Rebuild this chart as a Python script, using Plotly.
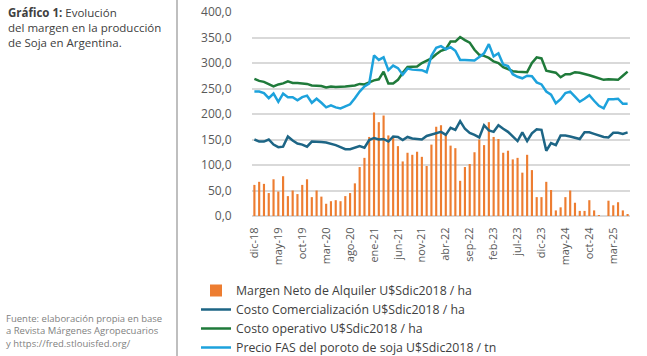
import plotly.graph_objects as go

month_abbr = ["ene", "feb", "mar", "abr", "may", "jun", "jul", "ago", "sep", "oct", "nov", "dic"]
# monthly categories dic-18 .. jun-25
months = ["dic-18"] + [f"{m}-{y:02d}" for y in range(19, 26) for m in month_abbr]
months = months[:79]
tick_labels = months[::5]

margen = [61, 67, 63, 45, 72, 48, 78, 39, 50, 43, 61, 72, 37, 50, 38, 24, 29, 31, 29, 39,
          45, 64, 96, 114, 155, 203, 184, 197, 158, 155, 137, 107, 124, 120, 126, 116, 98, 140, 175, 178,
          160, 138, 133, 69, 96, 102, 125, 150, 139, 184, 155, 151, 124, 128, 111, 114, 85, 120, 90, 37,
          37, 67, 51, 11, 17, 37, 50, 26, 10, 10, 31, 11, 1, -3, 30, 21, 27, 11, 2]
comercializacion = [150, 146, 146, 150, 140, 135, 136, 156, 148, 142, 140, 136, 146, 146, 145, 144, 142, 139, 135, 131,
                    131, 134, 137, 134, 149, 153, 150, 151, 146, 156, 155, 149, 155, 152, 151, 150, 157, 160, 163, 165,
                    159, 173, 169, 186, 171, 163, 159, 154, 178, 168, 165, 178, 171, 165, 156, 147, 164, 147, 162, 170,
                    169, 128, 143, 139, 158, 158, 156, 154, 151, 164, 164, 161, 158, 155, 154, 163, 163, 161, 164]
operativo = [269, 265, 263, 259, 254, 258, 260, 264, 261, 261, 260, 259, 256, 256, 255, 252, 254, 253, 253, 254,
             255, 256, 259, 258, 262, 266, 268, 283, 260, 260, 267, 281, 292, 292, 293, 300, 304, 309, 317, 324,
             327, 342, 342, 351, 345, 340, 326, 316, 314, 310, 303, 300, 292, 288, 284, 283, 283, 282, 300, 311,
             309, 285, 283, 281, 272, 278, 278, 282, 281, 279, 276, 273, 270, 267, 268, 268, 267, 275, 283]
precio_fas = [244, 244, 241, 231, 240, 224, 240, 233, 233, 227, 233, 236, 222, 230, 222, 213, 217, 213, 211, 215,
              219, 231, 244, 254, 260, 315, 306, 311, 286, 295, 290, 277, 289, 287, 287, 286, 282, 314, 330, 333,
              327, 331, 324, 306, 306, 305, 305, 312, 319, 337, 313, 319, 297, 294, 278, 273, 270, 275, 274, 262,
              258, 244, 238, 221, 229, 241, 244, 234, 224, 230, 237, 226, 216, 211, 229, 229, 230, 220, 220]

names = ["Margen Neto de Alquiler U$Sdic2018 / ha",
         "Costo Comercialización U$Sdic2018 / ha",
         "Costo operativo U$Sdic2018 / ha",
         "Precio FAS del poroto de soja U$Sdic2018 / tn"]

C_BAR = "#ED7D31"
C_TEAL = "#1D6585"
C_GREEN = "#1F7A3A"
C_BLUE = "#1DA2DC"
TXT = "#595959"
FONT = "Open Sans"

fig = go.Figure()
fig.add_trace(go.Bar(x=months, y=margen, name=names[0], marker=dict(color=C_BAR, line=dict(width=0))))
fig.add_trace(go.Scatter(x=months, y=comercializacion, name=names[1], mode="lines",
                         line=dict(color=C_TEAL, width=2.5)))
fig.add_trace(go.Scatter(x=months, y=operativo, name=names[2], mode="lines",
                         line=dict(color=C_GREEN, width=2.5)))
fig.add_trace(go.Scatter(x=months, y=precio_fas, name=names[3], mode="lines",
                         line=dict(color=C_BLUE, width=2.5)))

L, R, T, B = 252, 17, 12, 140
W, H = 647, 356
pw, ph = W - L - R, H - T - B


def px_x(p):
    return (p - L) / pw


def px_y(p):
    return (H - B - p) / ph


fig.update_layout(
    width=W, height=H,
    margin=dict(l=L, r=R, t=T, b=B, autoexpand=False),
    paper_bgcolor="white", plot_bgcolor="white",
    separators=",.",
    bargap=0.55,
    font=dict(family=FONT, color=TXT, size=11),
    showlegend=True,
    legend=dict(xref="container", yref="container", x=196 / W, y=1 - 276 / H,
                xanchor="left", yanchor="top", orientation="v",
                font=dict(family=FONT, size=12.3, color="#404040"),
                bgcolor="rgba(0,0,0,0)", itemwidth=30, tracegroupgap=0),
    xaxis=dict(type="category", tickmode="array", tickvals=tick_labels, ticktext=tick_labels,
               tickangle=-90, tickfont=dict(size=11, color=TXT), showgrid=False,
               showline=False, ticks="outside", ticklen=6, tickcolor="rgba(0,0,0,0)",
               automargin=False, range=[-0.5, len(months) - 0.5]),
    yaxis=dict(range=[0, 400], tickvals=[0, 50, 100, 150, 200, 250, 300, 350, 400],
               tickformat=".1f", tickfont=dict(size=12, color=TXT),
               showgrid=True, gridcolor="#D9D9D9", gridwidth=1.5,
               zeroline=True, zerolinecolor="#D9D9D9", zerolinewidth=1.5,
               ticks="outside", ticklen=17, tickcolor="rgba(0,0,0,0)", automargin=False),
)

# separator line
fig.add_shape(type="line", xref="paper", yref="paper", x0=px_x(177), x1=px_x(177),
              y0=px_y(H), y1=px_y(0), line=dict(color="#BFBFBF", width=2))

fig.add_annotation(xref="paper", yref="paper", x=px_x(6), y=px_y(3), xanchor="left", yanchor="top",
                   align="left", showarrow=False,
                   text="<b>Gráfico 1:</b> Evolución<br>del margen en la producción<br>de Soja en Argentina.",
                   font=dict(family=FONT, size=11.5, color="#404040"))
fig.add_annotation(xref="paper", yref="paper", x=px_x(4), y=px_y(310), xanchor="left", yanchor="top",
                   align="left", showarrow=False,
                   text="Fuente: elaboración propia en base<br>a Revista Márgenes Agropecuarios<br>y https://fred.stlouisfed.org/",
                   font=dict(family=FONT, size=9.5, color="#7F7F7F"))

fig.write_html("out.html", config={"displayModeBar": False},
               post_script="document.body.style.margin='0';document.body.style.overflow='hidden';")
